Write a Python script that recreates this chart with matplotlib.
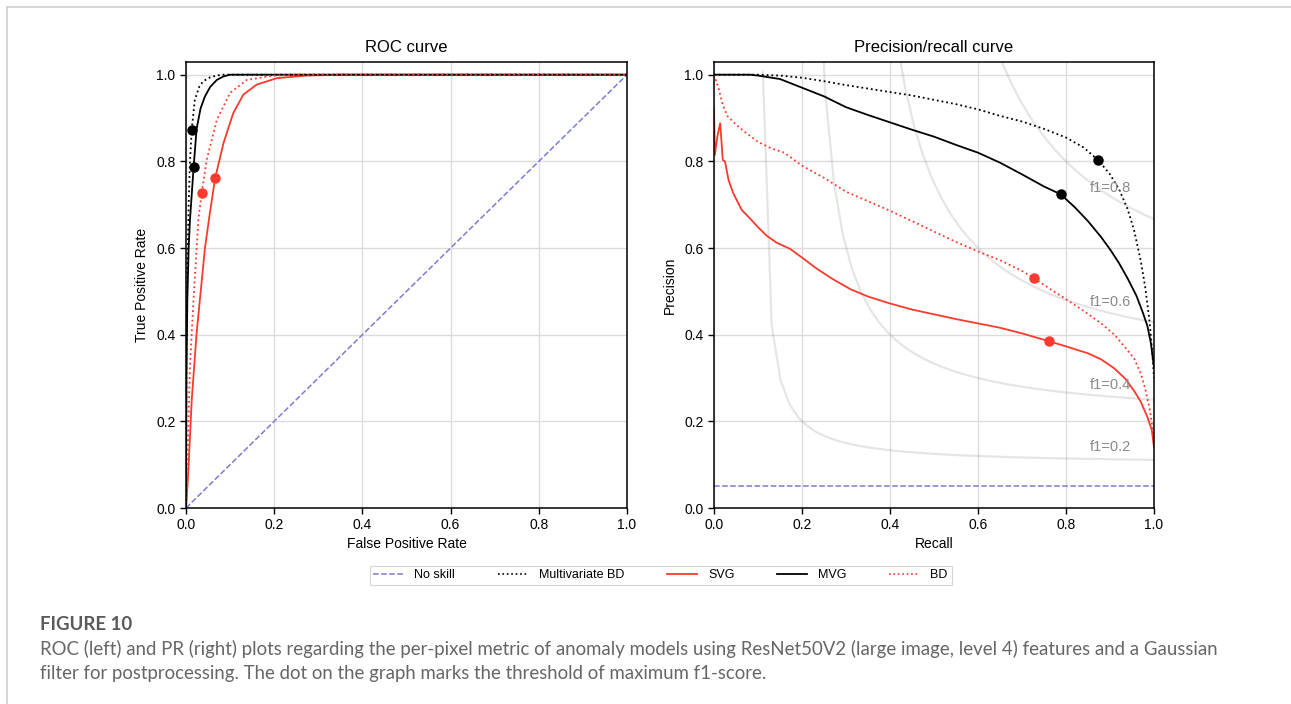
import numpy as np
import matplotlib
matplotlib.use("Agg")
import matplotlib.pyplot as plt
from matplotlib.lines import Line2D

plt.rcParams['font.family'] = ['Liberation Sans', 'DejaVu Sans']

# ---------------- data: ROC ----------------
roc_noskill_fpr = [0.0, 1.0]
roc_noskill_tpr = [0.0, 1.0]

roc_mbd_fpr = [0.0, 0.001, 0.003, 0.006, 0.009, 0.013, 0.02, 0.03, 0.039, 0.055, 0.07, 0.08, 1.0]
roc_mbd_tpr = [0.0, 0.35, 0.55, 0.70, 0.80, 0.873, 0.942, 0.972, 0.985, 0.994, 0.998, 1.0, 1.0]

roc_mvg_fpr = [0.0, 0.001, 0.003, 0.006, 0.009, 0.0174, 0.024, 0.033, 0.043, 0.055, 0.07, 0.085, 0.1, 1.0]
roc_mvg_tpr = [0.0, 0.30, 0.48, 0.60, 0.665, 0.788, 0.875, 0.922, 0.95, 0.972, 0.988, 0.996, 1.0, 1.0]

roc_bd_fpr = [0.0, 0.002, 0.005, 0.009, 0.017, 0.028, 0.0355, 0.047, 0.07, 0.1, 0.138, 0.2, 0.26, 1.0]
roc_bd_tpr = [0.0, 0.08, 0.17, 0.326, 0.48, 0.665, 0.727, 0.804, 0.896, 0.958, 0.988, 0.998, 1.0, 1.0]

roc_svg_fpr = [0.0, 0.0015, 0.006, 0.013, 0.024, 0.043, 0.054, 0.066, 0.085, 0.107, 0.13, 0.16, 0.206, 0.274, 0.35, 1.0]
roc_svg_tpr = [0.0, 0.018, 0.10, 0.249, 0.403, 0.60, 0.68, 0.761, 0.842, 0.911, 0.954, 0.977, 0.992, 0.998, 1.0, 1.0]

# best-f1 threshold points (ROC)
roc_best_mbd = (0.013, 0.873)
roc_best_mvg = (0.0174, 0.788)
roc_best_bd = (0.0355, 0.727)
roc_best_svg = (0.066, 0.761)

# ---------------- data: PR ----------------
pr_noskill = 0.05

pr_mvg_rec = [0.0, 0.082, 0.1, 0.15, 0.2, 0.25, 0.3, 0.35, 0.4, 0.45, 0.5, 0.55, 0.6, 0.65, 0.7, 0.75,
              0.788, 0.82, 0.85, 0.88, 0.9, 0.92, 0.94, 0.96, 0.975, 0.985, 0.993, 1.0]
pr_mvg_prec = [1.0, 1.0, 0.998, 0.99, 0.97, 0.95, 0.925, 0.907, 0.89, 0.873, 0.857, 0.838, 0.82, 0.797,
               0.770, 0.742, 0.724, 0.694, 0.662, 0.625, 0.597, 0.566, 0.53, 0.49, 0.45, 0.42, 0.38, 0.325]

pr_mbd_rec = [0.0, 0.1, 0.15, 0.2, 0.25, 0.3, 0.35, 0.4, 0.45, 0.5, 0.55, 0.6, 0.65, 0.7, 0.75, 0.8,
              0.84, 0.873, 0.9, 0.92, 0.94, 0.955, 0.97, 0.98, 0.99, 0.996, 1.0]
pr_mbd_prec = [1.0, 1.0, 0.998, 0.993, 0.985, 0.976, 0.968, 0.96, 0.952, 0.942, 0.932, 0.92, 0.905,
               0.892, 0.875, 0.855, 0.832, 0.803, 0.77, 0.737, 0.69, 0.64, 0.57, 0.51, 0.43, 0.36, 0.30]

pr_bd_rec = [0.0, 0.01, 0.02, 0.03, 0.05, 0.07, 0.1, 0.13, 0.16, 0.2, 0.25, 0.3, 0.35, 0.4, 0.45, 0.5,
             0.55, 0.6, 0.65, 0.7, 0.727, 0.76, 0.8, 0.84, 0.88, 0.91, 0.935, 0.955, 0.97, 0.98, 0.99, 1.0]
pr_bd_prec = [1.0, 0.97, 0.93, 0.905, 0.885, 0.868, 0.845, 0.83, 0.82, 0.79, 0.762, 0.73, 0.708, 0.686,
              0.662, 0.638, 0.614, 0.592, 0.572, 0.547, 0.531, 0.508, 0.482, 0.455, 0.426, 0.40, 0.37,
              0.345, 0.31, 0.275, 0.23, 0.163]

pr_svg_rec = [0.0, 0.002, 0.0076, 0.014, 0.02, 0.025, 0.033, 0.044, 0.063, 0.082, 0.1, 0.12, 0.143, 0.173,
              0.2, 0.234, 0.272, 0.31, 0.35, 0.4, 0.45, 0.5, 0.55, 0.6, 0.65, 0.7, 0.761, 0.8, 0.85, 0.88,
              0.91, 0.935, 0.955, 0.97, 0.985, 0.995, 1.0]
pr_svg_prec = [0.919, 0.815, 0.857, 0.888, 0.803, 0.80, 0.757, 0.726, 0.688, 0.668, 0.648, 0.628, 0.612,
               0.598, 0.578, 0.552, 0.527, 0.505, 0.488, 0.472, 0.458, 0.447, 0.436, 0.426, 0.416, 0.403,
               0.385, 0.373, 0.357, 0.343, 0.322, 0.298, 0.27, 0.245, 0.21, 0.18, 0.14]

pr_best_mbd = (0.873, 0.803)
pr_best_mvg = (0.788, 0.724)
pr_best_bd = (0.727, 0.531)
pr_best_svg = (0.761, 0.385)

f1_levels = [0.2, 0.4, 0.6, 0.8]

series_labels = ["No skill", "Multivariate BD", "SVG", "MVG", "BD"]

# ---------------- styles ----------------
RED = '#fa3a2c'
BLUE = '#7b7bd6'
GRID = '#dcdcdc'

fig = plt.figure(figsize=(12.91, 7.04), dpi=100)

# page border lines
fig.add_artist(Line2D([7/1291, 1.0], [1 - 7/704, 1 - 7/704], transform=fig.transFigure, color='#cfcfcf', lw=1.2))
fig.add_artist(Line2D([7/1291, 7/1291], [0.0, 1 - 7/704], transform=fig.transFigure, color='#cfcfcf', lw=1.2))

axL = fig.add_axes([186/1291, 196/704, 441/1291, 446.3/704])
axR = fig.add_axes([714/1291, 196/704, 440/1291, 446.3/704])

for ax in (axL, axR):
    ax.set_xlim(0, 1)
    ax.set_ylim(0, 1.03)
    ax.set_xticks([0, 0.2, 0.4, 0.6, 0.8, 1.0])
    ax.set_yticks([0, 0.2, 0.4, 0.6, 0.8, 1.0])
    ax.set_xticklabels(['0.0', '0.2', '0.4', '0.6', '0.8', '1.0'])
    ax.set_yticklabels(['0.0', '0.2', '0.4', '0.6', '0.8', '1.0'])
    ax.tick_params(labelsize=10, length=4, width=1)
    ax.grid(True, color=GRID, lw=1)
    ax.set_axisbelow(True)
    for s in ax.spines.values():
        s.set_linewidth(1.1)

# ROC
axL.plot(roc_noskill_fpr, roc_noskill_tpr, '--', color=BLUE, lw=1.1)
axL.plot(roc_mbd_fpr, roc_mbd_tpr, ':', color='black', lw=1.3)
axL.plot(roc_svg_fpr, roc_svg_tpr, '-', color=RED, lw=1.3)
axL.plot(roc_mvg_fpr, roc_mvg_tpr, '-', color='black', lw=1.3)
axL.plot(roc_bd_fpr, roc_bd_tpr, ':', color=RED, lw=1.3)
for pt, c in [(roc_best_mbd, 'black'), (roc_best_mvg, 'black'), (roc_best_bd, RED), (roc_best_svg, RED)]:
    axL.plot([pt[0]], [pt[1]], 'o', color=c, ms=6.5, zorder=5)
axL.set_title('ROC curve', fontsize=12, pad=7)
axL.set_xlabel('False Positive Rate', fontsize=10, labelpad=3)
axL.set_ylabel('True Positive Rate', fontsize=10, labelpad=5)

# PR: iso-f1 curves
for f in f1_levels:
    x = np.linspace(0.01, 1)
    y = f * x / (2 * x - f)
    m = y >= 0
    axR.plot(x[m], y[m], color='gray', alpha=0.2, lw=1.6)
    axR.text(0.9, y[45] + 0.02, 'f1={0:0.1f}'.format(f), color='#8a8a8a', fontsize=10.5, ha='center')

axR.axhline(pr_noskill, ls='--', color=BLUE, lw=1.1)
axR.plot(pr_mbd_rec, pr_mbd_prec, ':', color='black', lw=1.3)
axR.plot(pr_svg_rec, pr_svg_prec, '-', color=RED, lw=1.3)
axR.plot(pr_mvg_rec, pr_mvg_prec, '-', color='black', lw=1.3)
axR.plot(pr_bd_rec, pr_bd_prec, ':', color=RED, lw=1.3)
for pt, c in [(pr_best_mbd, 'black'), (pr_best_mvg, 'black'), (pr_best_bd, RED), (pr_best_svg, RED)]:
    axR.plot([pt[0]], [pt[1]], 'o', color=c, ms=6.5, zorder=5)
axR.set_title('Precision/recall curve', fontsize=12, pad=7)
axR.set_xlabel('Recall', fontsize=10, labelpad=3)
axR.set_ylabel('Precision', fontsize=10, labelpad=5)

# legend
handles = [
    Line2D([], [], ls='--', color=BLUE, lw=1.1),
    Line2D([], [], ls=':', color='black', lw=1.2),
    Line2D([], [], ls='-', color=RED, lw=1.3),
    Line2D([], [], ls='-', color='black', lw=1.3),
    Line2D([], [], ls=':', color=RED, lw=1.2),
]
leg = fig.legend(handles, series_labels, loc='center', bbox_to_anchor=(660.5/1291, 1 - 575.5/704),
                 ncol=5, fontsize=9, frameon=True, fancybox=False, edgecolor='#cccccc',
                 columnspacing=3.4, handlelength=2.4, borderpad=0.3, handletextpad=0.9,
                 borderaxespad=0)
leg.get_frame().set_linewidth(0.8)

# caption
cap_font = ['Lato', 'DejaVu Sans']
fig.text(40/1291, 1 - 624/704, 'FIGURE 10', fontsize=13.4, fontweight='bold', color='#5a5a5a',
         family=cap_font, va='center')
fig.text(40/1291, 1 - 649/704,
         'ROC (left) and PR (right) plots regarding the per-pixel metric of anomaly models using ResNet50V2 '
         '(large image, level 4) features and a Gaussian',
         fontsize=13.4, color='#666666', family=cap_font, va='center')
fig.text(40/1291, 1 - 673/704,
         'filter for postprocessing. The dot on the graph marks the threshold of maximum f1-score.',
         fontsize=13.4, color='#666666', family=cap_font, va='center')

fig.savefig('out.png', dpi=100)
